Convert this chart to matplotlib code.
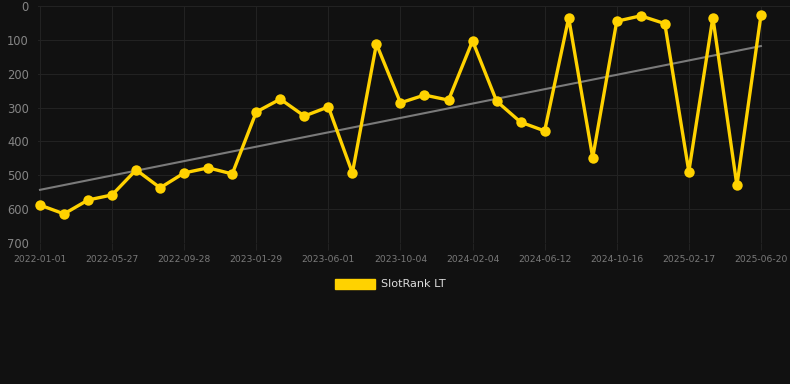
import numpy as np
import matplotlib
matplotlib.use("Agg")
import matplotlib.pyplot as plt
from matplotlib.patches import Patch

# rank values (lower is better), one point per period
ranks = [588, 614, 573, 558, 484, 537, 493, 478, 496, 313,
         275, 325, 298, 493, 112, 286, 263, 278, 103, 281,
         343, 369, 35, 448, 45, 29, 52, 489, 34, 530, 28]
tick_labels = ["2022-01-01", "2022-05-27", "2022-09-28", "2023-01-29",
               "2023-06-01", "2023-10-04", "2024-02-04", "2024-06-12",
               "2024-10-16", "2025-02-17", "2025-06-20"]
series_name = "SlotRank LT"

bg = "#111111"
gold = "#FFD200"
grid_col = "#222222"

x = np.arange(len(ranks))

fig = plt.figure(figsize=(7.9, 3.84), dpi=100, facecolor=bg)
ax = fig.add_axes([38 / 790, 141 / 384, 752 / 790, 237 / 384])
ax.set_facecolor(bg)

# trend line from a linear fit of the ranks
k, b = np.polyfit(x, ranks, 1)
ax.plot(x, k * x + b, color="#7a7a7a", lw=1.5, zorder=2)

ax.plot(x, ranks, color=gold, lw=2.4, marker="o", markersize=7.5,
        markeredgewidth=0, zorder=3, clip_on=False)

ax.set_ylim(700, 0)
ax.set_yticks(range(0, 701, 100))
ax.set_xlim(-0.083, 31.21)
ax.set_xticks(x[::3])
ax.set_xticklabels(tick_labels)

ax.grid(True, color=grid_col, lw=0.8)
ax.set_axisbelow(True)
for s in ax.spines.values():
    s.set_visible(False)
ax.tick_params(axis="y", length=0, pad=6.5, labelsize=8.3, labelcolor="#858585")
ax.tick_params(axis="x", length=5, color=grid_col, pad=3.5, labelsize=6.6,
               labelcolor="#7a7a7a")

fig.legend(handles=[Patch(facecolor=gold, edgecolor=gold, label=series_name)],
           loc="center", bbox_to_anchor=(390 / 790, 1 - 284 / 384),
           frameon=False, handlelength=3.6, handleheight=1.0,
           handletextpad=0.5, fontsize=8.1, labelcolor="#dddddd")

fig.savefig("out.png", dpi=100, facecolor=bg)
